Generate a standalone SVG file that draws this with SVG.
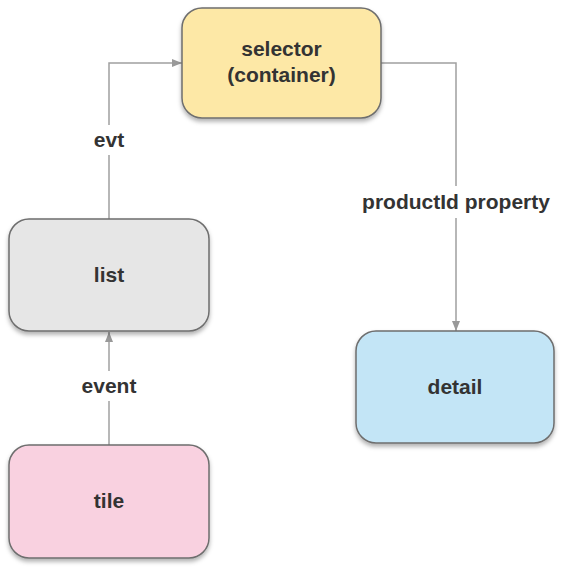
<svg xmlns="http://www.w3.org/2000/svg" width="575" height="570" viewBox="0 0 575 570">
<defs>
<filter id="sh" x="-10%" y="-10%" width="125%" height="130%">
<feDropShadow dx="0" dy="3" stdDeviation="2" flood-color="#000" flood-opacity="0.3"/>
</filter>
<marker id="arr" viewBox="0 0 10 10" refX="10" refY="5" markerWidth="10" markerHeight="10" markerUnits="userSpaceOnUse" orient="auto">
<path d="M0,1 L10,5 L0,9 z" fill="#999"/>
</marker>
</defs>
<style>
.node rect{stroke:#6e6e6e;stroke-width:1.5;filter:url(#sh)}
.lbl{font-family:"Liberation Sans",Arial,sans-serif;font-weight:bold;font-size:21px;fill:#333;text-anchor:middle}
.elbl{font-family:"Liberation Sans",Arial,sans-serif;font-weight:bold;font-size:21px;fill:#333;text-anchor:middle}
.conn path{fill:none;stroke:#a0a0a0;stroke-width:1.5;marker-end:url(#arr)}
.bg{fill:#fff}
</style>
<rect width="575" height="570" fill="#fff"/>
<g id="connectors" class="conn">
<path d="M109,445 L109,332"/>
<path d="M109,219 L109,63 L182,63"/>
<path d="M381,63 L456,63 L456,331"/>
<rect class="bg" x="72" y="371" width="74" height="30"/>
<text class="elbl" x="109" y="393">event</text>
<rect class="bg" x="84" y="125" width="50" height="30"/>
<text class="elbl" x="109" y="147">evt</text>
<rect class="bg" x="352" y="186" width="208" height="32"/>
<text class="elbl" x="456" y="209">productId property</text>
</g>
<g id="selector" class="node">
<rect x="182" y="8" width="199" height="110" rx="20" fill="#fde8a6"/>
<text class="lbl" x="281.5" y="56">selector</text>
<text class="lbl" x="281.5" y="82">(container)</text>
</g>
<g id="list" class="node">
<rect x="9" y="219" width="200" height="112" rx="20" fill="#e6e6e6"/>
<text class="lbl" x="109" y="282">list</text>
</g>
<g id="detail" class="node">
<rect x="356" y="331" width="198" height="112" rx="20" fill="#c3e5f6"/>
<text class="lbl" x="455" y="394">detail</text>
</g>
<g id="tile" class="node">
<rect x="9" y="445" width="200" height="113" rx="20" fill="#f9d1e0"/>
<text class="lbl" x="109" y="508">tile</text>
</g>
</svg>
